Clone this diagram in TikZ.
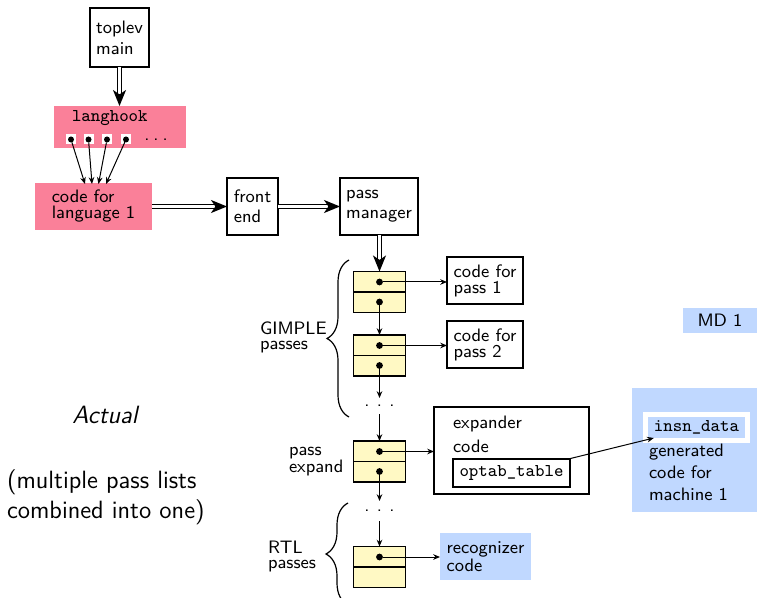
\documentclass[tikz,border=0pt]{standalone}
\usepackage{fontspec}
\usetikzlibrary{arrows.meta,decorations.pathreplacing}
\definecolor{hookpink}{RGB}{250,128,153}
\definecolor{mdblue}{RGB}{192,216,255}
\definecolor{passyellow}{RGB}{255,249,196}
% sans text at 9pt with a given baselineskip
\newcommand\diagfont[1]{\fontsize{9}{#1}\selectfont\sffamily}
\newcommand\bigfont{\fontsize{12.5}{14.5}\selectfont\sffamily}
\begin{document}
\begin{tikzpicture}[x=0.5pt,y=-0.5pt,
  every node/.style={inner sep=0pt, outer sep=0pt},
  txt/.style={font=\diagfont{9}, anchor=base west},
  boxed/.style={draw, line width=0.6pt, align=left},
  filled/.style={fill=#1, align=left},
  passbox/.style={draw, line width=0.6pt, fill=passyellow,
                  minimum width=26pt, minimum height=20.5pt},
  ptr/.style={circle, fill=black, minimum size=3.4pt},
  slot/.style={fill=white, minimum size=5pt},
  link/.style={line width=0.5pt, -{Stealth[length=3.4pt,width=2.8pt]}},
  dbl/.style={double, double distance=1.3pt, line width=0.65pt,
              -{Stealth[length=8pt,width=6.5pt,inset=2.2pt]}},
  gap/.style={font=\diagfont{9}},
  bracestyle/.style={line width=0.6pt, decorate,
                     decoration={brace, amplitude=11pt}},
]
\clip (0,0) rectangle (759,598);

% ---- driver and language hooks
\node[boxed, font=\diagfont{10.5}, minimum width=29.5pt, minimum height=29.5pt]
  (top) at (119.5,37.5) {toplev\\main};
\node[fill=hookpink, minimum width=66pt, minimum height=21pt] (hook) at (120,127) {};
\node[font=\diagfont{9}\ttfamily, anchor=base west] (hooklabel) at (72,122) {langhook};
\foreach \i/\x in {1/71,2/88.5,3/107,4/126} {
  \node[slot] (slot\i) at (\x,139.5) {};
  \node[ptr, minimum size=3pt] (hp\i) at (\x,139.5) {};
}
\node[font=\diagfont{9}] (hookmore) at (156,139.5)
  {.\hspace{2pt}.\hspace{2pt}.};

\node[filled=hookpink, font=\diagfont{8}, minimum width=58.5pt, minimum height=23.5pt]
  (lang) at (93.5,206.5) {code for\\language 1};
\coordinate (hookin1) at (85,184);
\coordinate (hookin2) at (92,184);
\coordinate (hookin3) at (98.5,184);
\coordinate (hookin4) at (106,184);
\foreach \i in {1,...,4} { \draw[link] (hp\i) -- (hookin\i); }

\node[boxed, font=\diagfont{10}, minimum width=25.5pt, minimum height=28.5pt]
  (fe) at (252.5,206.5) {front\\end};
\node[boxed, font=\diagfont{10}, minimum width=39pt, minimum height=28.5pt]
  (pm) at (379,206.5) {pass\\manager};

\draw[dbl] (top.south) -- (top.south |- hook.north);
\draw[dbl] (lang) -- (fe);
\draw[dbl] (fe) -- (pm);

% ---- pass list
\foreach \i/\y in {1/292,2/355.5,3/461.5,4/567} {
  \node[passbox] (pb\i) at (379.5,\y) {};
  \draw[line width=0.6pt] (pb\i.west) -- (pb\i.east);
  \node[ptr] (pa\i) at (379.5,\y-10) {};
}
\foreach \i/\y in {1/292,2/355.5,3/461.5} {
  \node[ptr] (pn\i) at (379.5,\y+10) {};
}
\draw[dbl] (pm.south -| pb1.north) -- (pb1.north);

\node[boxed, font=\diagfont{8}, minimum width=38pt, minimum height=23.5pt]
  (cp1) at (485,280.5) {code for\\pass 1};
\node[boxed, font=\diagfont{8}, minimum width=38pt, minimum height=23.5pt]
  (cp2) at (485,344.5) {code for\\pass 2};
\draw[link] (pa1) -- (pa1 -| cp1.west);
\draw[link] (pa2) -- (pa2 -| cp2.west);

\node[gap, minimum height=8pt] (more1) at (379.5,406)
  {.\hspace{3.7pt}.\hspace{3.7pt}.};
\node[gap, minimum height=10pt] (more2) at (379.5,511)
  {.\hspace{3.7pt}.\hspace{3.7pt}.};
\draw[link] (pn1) -- (pb2);
\draw[link] (pn2) -- (more1);
\draw[link] (more1) -- (pb3);
\draw[link] (pn3) -- (more2);
\draw[link] (more2) -- (pb4);

% ---- expander and machine description
\node[boxed, minimum width=77.5pt, minimum height=43.5pt] (expander) at (511.5,450.5) {};
\node[txt] (explabel1) at (453,428) {expander};
\node[txt] (explabel2) at (453,452) {code};
\node[boxed, font=\diagfont{9}\ttfamily, minimum width=58.5pt, minimum height=14pt]
  (optab) at (511.5,473) {optab\_table};
\draw[link] (pa3) -- (pa3 -| expander.west);

\node[fill=mdblue, minimum width=62.5pt, minimum height=62pt] (md) at (694.5,450) {};
\node[draw=white, line width=2.5pt, minimum width=51pt, minimum height=13pt]
  (insnframe) at (696.5,427.5) {};
\node[fill=mdblue, font=\diagfont{9}\ttfamily, minimum width=48.5pt, minimum height=10.5pt]
  (insn) at (696.5,427.5) {insn\_data};
\node[txt] (mdlabel1) at (649,456) {generated};
\node[txt] (mdlabel2) at (649,478) {code for};
\node[txt] (mdlabel3) at (649,500) {machine 1};
\draw[link] (optab) -- (insn);

\node[filled=mdblue, font=\diagfont{8}, minimum width=45.5pt, minimum height=23.5pt]
  (recog) at (485.5,556.5) {recognizer\\code};
\draw[link] (pa4) -- (pa4 -| recog.west);

\node[fill=mdblue, font=\diagfont{9}, minimum width=37pt, minimum height=12.5pt]
  (md1) at (720,320.5) {MD 1};

% ---- pass group labels and braces
\node[txt] (gimple1) at (260,335) {GIMPLE};
\node[txt] (gimple2) at (260,350) {passes};
\node[txt] (expand1) at (289,455) {pass};
\node[txt] (expand2) at (289,472) {expand};
\node[txt] (rtl1) at (268,553) {RTL};
\node[txt] (rtl2) at (268,568) {passes};
\draw[bracestyle] (349,417) -- (349,260);
\draw[bracestyle] (348,605) -- (348,503);

% ---- side note
\node[font=\bigfont\itshape, anchor=base] (actual) at (105,423) {Actual};
\node[font=\bigfont, anchor=base west] (note1) at (7,488) {(multiple pass lists};
\node[font=\bigfont, anchor=base west] (note2) at (7,518) {combined into one)};
\end{tikzpicture}
\end{document}
